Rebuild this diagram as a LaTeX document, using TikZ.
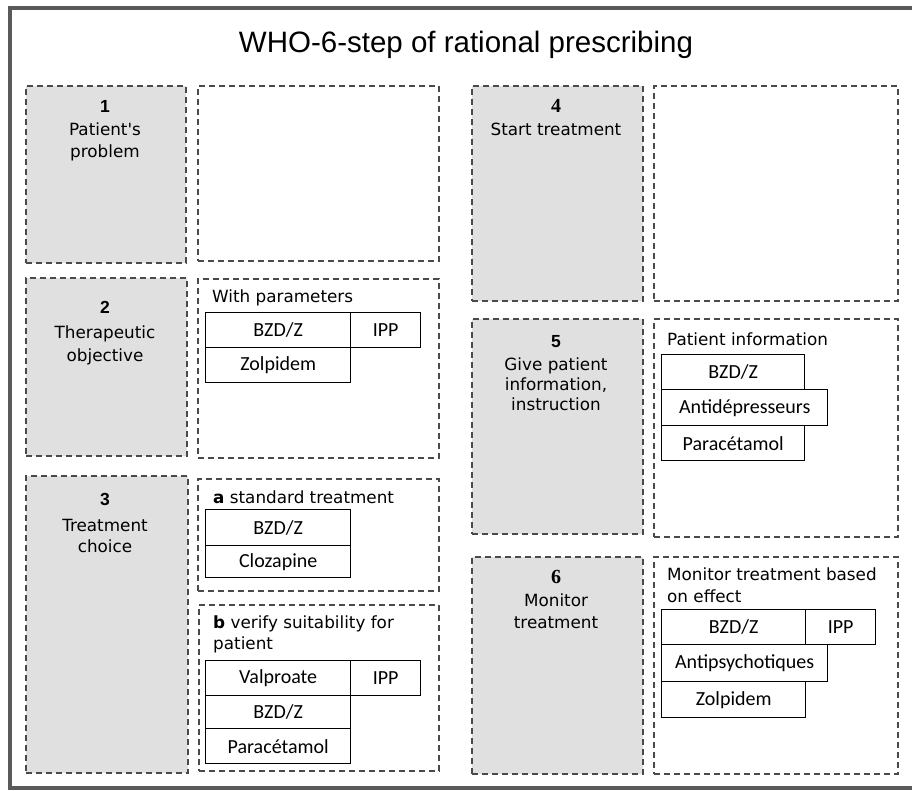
\documentclass[tikz,border=0pt]{standalone}
\usepackage{fontspec}
\newfontfamily\djv{DejaVu Sans}
\newfontfamily\libsans{Liberation Sans}
\newfontfamily\libserif{Liberation Serif}
\newfontfamily\carl{Carlito}
\definecolor{framegray}{HTML}{5A5A5A}
\definecolor{dashgray}{HTML}{4A4A4A}
\definecolor{boxfill}{HTML}{E0E0E0}
\tikzset{
  dbox/.style={draw=dashgray, line width=1.6pt, dash pattern=on 6pt off 4pt, rectangle, anchor=north west, inner sep=0pt},
  graybox/.style={dbox, fill=boxfill},
  whitebox/.style={dbox, fill=white},
  cell/.style={draw=black, line width=1.4pt, rectangle, anchor=north west, inner sep=0pt, font=\carl\fontsize{20}{22}\selectfont, text=black},
  stepnum/.style={anchor=base, inner sep=0pt, font=\libsans\bfseries\fontsize{17.5}{19}\selectfont},
  stepnumserif/.style={anchor=base, inner sep=0pt, font=\libserif\bfseries\fontsize{20}{22}\selectfont},
  steplabel/.style={anchor=base, inner sep=0pt, font=\djv\fontsize{16.8}{18}\selectfont},
  caption/.style={anchor=base west, inner sep=0pt, font=\djv\fontsize{16.8}{18}\selectfont},
}
\begin{document}
\begin{tikzpicture}[x=1pt,y=-1pt]
\useasboundingbox (0,0) rectangle (912,790);
\fill[white] (0,0) rectangle (912,790);
% outer frame
\draw[framegray, line width=3.5pt] (930,8) -- (10,8) -- (10,788) -- (930,788);
% title
\node[anchor=base, inner sep=0pt, font=\libsans\fontsize{29.5}{32}\selectfont] (title) at (466,52) {WHO-6-step of rational prescribing};

% ---- Step 1
\node[graybox, minimum width=160pt, minimum height=177pt] (g1) at (25,85) {};
\node[whitebox, minimum width=241pt, minimum height=175pt] (w1) at (197,85) {};
\node[stepnum] (n1) at (105,112) {1};
\node[steplabel] (l1a) at (105,135) {Patient's};
\node[steplabel] (l1b) at (105,157) {problem};

% ---- Step 2
\node[graybox, minimum width=161pt, minimum height=178pt] (g2) at (25,277) {};
\node[whitebox, minimum width=241pt, minimum height=179pt] (w2) at (197,278) {};
\node[stepnum] (n2) at (105,313) {2};
\node[steplabel] (l2a) at (105,338) {Therapeutic};
\node[steplabel] (l2b) at (105,361) {objective};
\node[caption] (cap2) at (212,302) {With parameters};
\node[cell, minimum width=145pt, minimum height=35pt] (c2a) at (205,312) {BZD/Z};
\node[cell, minimum width=70pt, minimum height=35pt] (c2b) at (350,312) {IPP};
\node[cell, minimum width=145pt, minimum height=35pt] (c2c) at (205,347) {Zolpidem};

% ---- Step 3
\node[graybox, minimum width=162pt, minimum height=297pt] (g3) at (25,475) {};
\node[whitebox, minimum width=241pt, minimum height=112pt] (w3a) at (197,478) {};
\node[whitebox, minimum width=240pt, minimum height=166pt] (w3b) at (198,604) {};
\node[stepnum] (n3) at (105,505) {3};
\node[steplabel] (l3a) at (105,531) {Treatment};
\node[steplabel] (l3b) at (105,552) {choice};
\node[caption] (cap3a) at (213,503) {\bfseries a\mdseries\ standard treatment};
\node[cell, minimum width=145pt, minimum height=36pt] (c3a) at (205,509) {BZD/Z};
\node[cell, minimum width=145pt, minimum height=32pt] (c3b) at (205,545) {Clozapine};
\node[caption] (cap3b) at (213,628) {\bfseries b\mdseries\ verify suitability for};
\node[caption] (cap3c) at (213,649) {patient};
\node[cell, minimum width=145pt, minimum height=35pt] (c3c) at (205,660) {Valproate};
\node[cell, minimum width=70pt, minimum height=35pt] (c3d) at (350,660) {IPP};
\node[cell, minimum width=145pt, minimum height=33pt] (c3e) at (205,695) {BZD/Z};
\node[cell, minimum width=145pt, minimum height=35pt] (c3f) at (205,728) {Paracétamol};

% ---- Step 4
\node[graybox, minimum width=171pt, minimum height=215pt] (g4) at (471,85) {};
\node[whitebox, minimum width=244pt, minimum height=215pt] (w4) at (653,85) {};
\node[stepnumserif] (n4) at (556,112) {4};
\node[steplabel] (l4a) at (556,135) {Start treatment};

% ---- Step 5
\node[graybox, minimum width=171pt, minimum height=215pt] (g5) at (471,318) {};
\node[whitebox, minimum width=244pt, minimum height=218pt] (w5) at (653,318) {};
\node[stepnum] (n5) at (556,347) {5};
\node[steplabel] (l5a) at (556,370) {Give patient};
\node[steplabel] (l5b) at (556,390) {information,};
\node[steplabel] (l5c) at (556,410) {instruction};
\node[caption] (cap5) at (667,345) {Patient information};
\node[cell, minimum width=143pt, minimum height=35pt] (c5a) at (661,354) {BZD/Z};
\node[cell, minimum width=166pt, minimum height=36pt] (c5b) at (661,389) {Antidépresseurs};
\node[cell, minimum width=143pt, minimum height=35pt] (c5c) at (661,425) {Paracétamol};

% ---- Step 6
\node[graybox, minimum width=171pt, minimum height=217pt] (g6) at (471,556) {};
\node[whitebox, minimum width=244pt, minimum height=217pt] (w6) at (653,556) {};
\node[stepnumserif] (n6) at (556,583) {6};
\node[steplabel] (l6a) at (556,606) {Monitor};
\node[steplabel] (l6b) at (556,628) {treatment};
\node[caption] (cap6a) at (667,580) {Monitor treatment based};
\node[caption] (cap6b) at (667,602) {on effect};
\node[cell, minimum width=144pt, minimum height=35pt] (c6a) at (661,609) {BZD/Z};
\node[cell, minimum width=70pt, minimum height=35pt] (c6b) at (805,609) {IPP};
\node[cell, minimum width=166pt, minimum height=37pt] (c6c) at (661,644) {Antipsychotiques};
\node[cell, minimum width=144pt, minimum height=36pt] (c6d) at (661,681) {Zolpidem};
\end{tikzpicture}
\end{document}
